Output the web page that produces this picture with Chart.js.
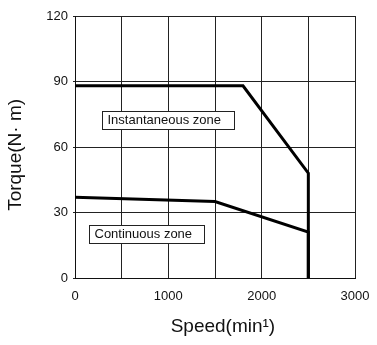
<!DOCTYPE html>
<html><head><meta charset="utf-8">
<script src="https://cdn.jsdelivr.net/npm/chart.js@4/dist/chart.umd.min.js"></script>
<style>html,body{margin:0;padding:0;background:#fff}#c{display:block}</style>
</head><body>
<canvas id="c" width="377" height="345"></canvas>
<script>
const xTickLabels = [0, 1000, 2000, 3000];
const yTickLabels = [0, 30, 60, 90, 120];
const instSpeed = [0, 1800, 2500, 2500];
const instTorque = [88, 88, 48, 0];
const contSpeed = [0, 1500, 2500, 2500];
const contTorque = [37, 35, 21, 0];
const zoneNames = ['Instantaneous zone', 'Continuous zone'];

const toPts = (xs, ys) => xs.map((x, i) => ({x: x, y: ys[i]}));

const zoneBoxes = {
  id: 'zoneBoxes',
  afterDatasetsDraw(chart, args, opts) {
    const {ctx, scales: {x, y}} = chart;
    ctx.save();
    ctx.font = '13px "Liberation Sans", Arial, sans-serif';
    ctx.textBaseline = 'middle';
    opts.boxes.forEach((b, i) => {
      const l = Math.round(x.getPixelForValue(b.from)) + 0.5;
      const r = Math.round(x.getPixelForValue(b.to)) + 0.5;
      const cy = y.getPixelForValue(b.at);
      const h = 18;
      const t = Math.round(cy - h / 2) + 0.5;
      ctx.fillStyle = '#fff';
      ctx.fillRect(l, t, r - l, h);
      ctx.strokeStyle = '#222';
      ctx.lineWidth = 1;
      ctx.strokeRect(l, t, r - l, h);
      ctx.fillStyle = '#111';
      ctx.fillText(zoneNames[i], l + 5, cy + 0.5);
    });
    ctx.restore();
  }
};

new Chart(document.getElementById('c'), {
  type: 'scatter',
  data: {
    datasets: [
      {data: toPts(instSpeed, instTorque), showLine: true, borderColor: '#000', borderWidth: 3, pointRadius: 0, fill: false, tension: 0},
      {data: toPts(contSpeed, contTorque), showLine: true, borderColor: '#000', borderWidth: 3, pointRadius: 0, fill: false, tension: 0}
    ]
  },
  options: {
    responsive: false,
    animation: false,
    layout: {padding: {top: 16, right: 22, left: 0, bottom: 0}},
    plugins: {
      legend: {display: false},
      tooltip: {enabled: false},
      zoneBoxes: {boxes: [{from: 285, to: 1705, at: 72.5}, {from: 147, to: 1385, at: 20}]}
    },
    scales: {
      x: {
        type: 'linear', min: 0, max: 3000,
        afterFit: s => { s.height = 67; s.paddingLeft = 0; s.paddingRight = 0; },
        grid: {color: '#222', lineWidth: 1, drawTicks: false},
        border: {color: '#111', width: 1},
        ticks: {
          stepSize: 500, padding: 11, color: '#111', maxRotation: 0, autoSkip: false,
          font: {family: '"Liberation Sans", Arial, sans-serif', size: 13},
          callback: v => xTickLabels.includes(v) ? String(v) : ''
        },
        title: {display: true, text: '   Speed(min¹)', color: '#111', padding: {top: 0, bottom: 7},
          font: {family: '"Liberation Sans", Arial, sans-serif', size: 19}}
      },
      y: {
        type: 'linear', min: 0, max: 120,
        afterFit: s => { s.width = 75; s.paddingTop = 0; s.paddingBottom = 0; },
        grid: {color: '#222', lineWidth: 1, drawTicks: true, tickLength: 2},
        border: {color: '#111', width: 1},
        ticks: {
          stepSize: 30, padding: 5, color: '#111',
          font: {family: '"Liberation Sans", Arial, sans-serif', size: 13},
          callback: v => yTickLabels.includes(v) ? String(v) : ''
        },
        title: {display: true, text: 'Torque(N· m)   ', color: '#111', padding: {top: 4, bottom: 0},
          font: {family: '"Liberation Sans", Arial, sans-serif', size: 19}}
      }
    }
  },
  plugins: [zoneBoxes]
});
</script>
</body></html>
